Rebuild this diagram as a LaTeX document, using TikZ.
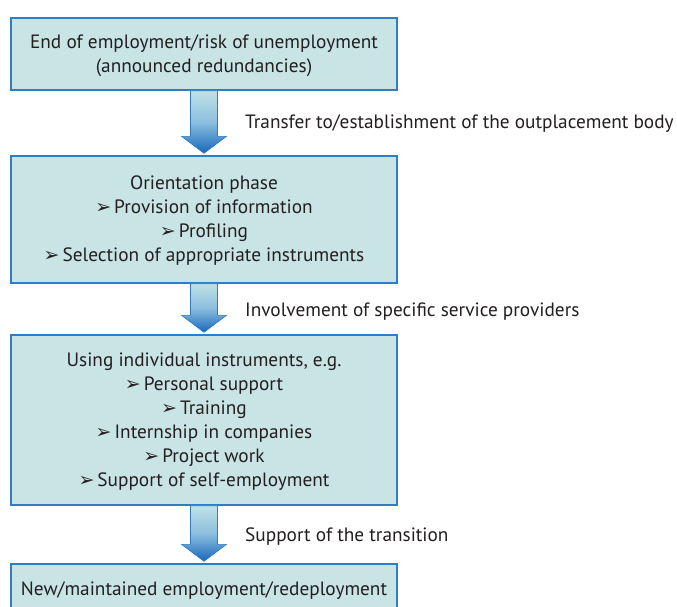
\documentclass[tikz,border=0pt]{standalone}
\usepackage{fontspec}
\setmainfont{PT Sans}
\newfontfamily\dejavu{DejaVu Sans}
\usetikzlibrary{calc}
\definecolor{boxfill}{RGB}{201,228,228}
\definecolor{boxline}{RGB}{46,125,197}
\definecolor{arrlight}{RGB}{192,226,231}
\definecolor{arrmid}{RGB}{140,190,222}
\definecolor{arrdark}{RGB}{22,104,188}
\definecolor{txt}{RGB}{35,31,32}
\newcommand{\bul}{{\dejavu\fontsize{19}{19}\selectfont ➢}\kern3pt}
\begin{document}
\begin{tikzpicture}[x=1pt,y=-1pt,
  stagebox/.style={draw=boxline,line width=1.4pt,fill=boxfill,minimum width=386pt,text=txt,align=center,font=\fontsize{19.3}{24}\selectfont,inner sep=0pt},
  lbl/.style={anchor=west,text=txt,font=\fontsize{19.3}{24}\selectfont,inner sep=0pt},
  blockarr/.style={draw=boxline,line width=0.6pt,top color=arrlight,bottom color=arrdark,middle color=arrmid}]
\clip (0,0) rectangle (677,606);
\fill[white] (0,0) rectangle (677,606);
\node[stagebox,minimum height=72pt] (b1) at (204,54) {\strut End of employment/risk of unemployment\\(announced redundancies)};
\node[stagebox,minimum height=127pt] (b2) at (204,219.5) {\strut Orientation phase\\\bul Provision of information\\\bul Profiling\\\bul Selection of appropriate instruments};
\node[stagebox,minimum height=170pt] (b3) at (204,420) {\strut Using individual instruments, e.g.\\\bul Personal support\\\bul Training\\\bul Internship in companies\\\bul Project work\\\bul Support of self-employment};
\node[stagebox,minimum height=54pt] (b4) at (204,591) {New/maintained employment/redeployment};
\foreach \a/\b in {b1/b2,b2/b3,b3/b4}{
  \path[blockarr] let \p1=(\a.south), \p2=(\b.north) in
   (\x1-13.5,\y1) -- (\x1+13.5,\y1) -- (\x1+13.5,\y2+19) -- (\x1+22.5,\y2+19)
   -- (\x1,\y2+2) -- (\x1-22.5,\y2+19) -- (\x1-13.5,\y2+19) -- cycle;
}
\node[lbl] (l1) at (245,124) {Transfer to/establishment of the outplacement body};
\node[lbl] (l2) at (245,312) {Involvement of specific service providers};
\node[lbl] (l3) at (245,537) {Support of the transition};
\end{tikzpicture}
\end{document}
